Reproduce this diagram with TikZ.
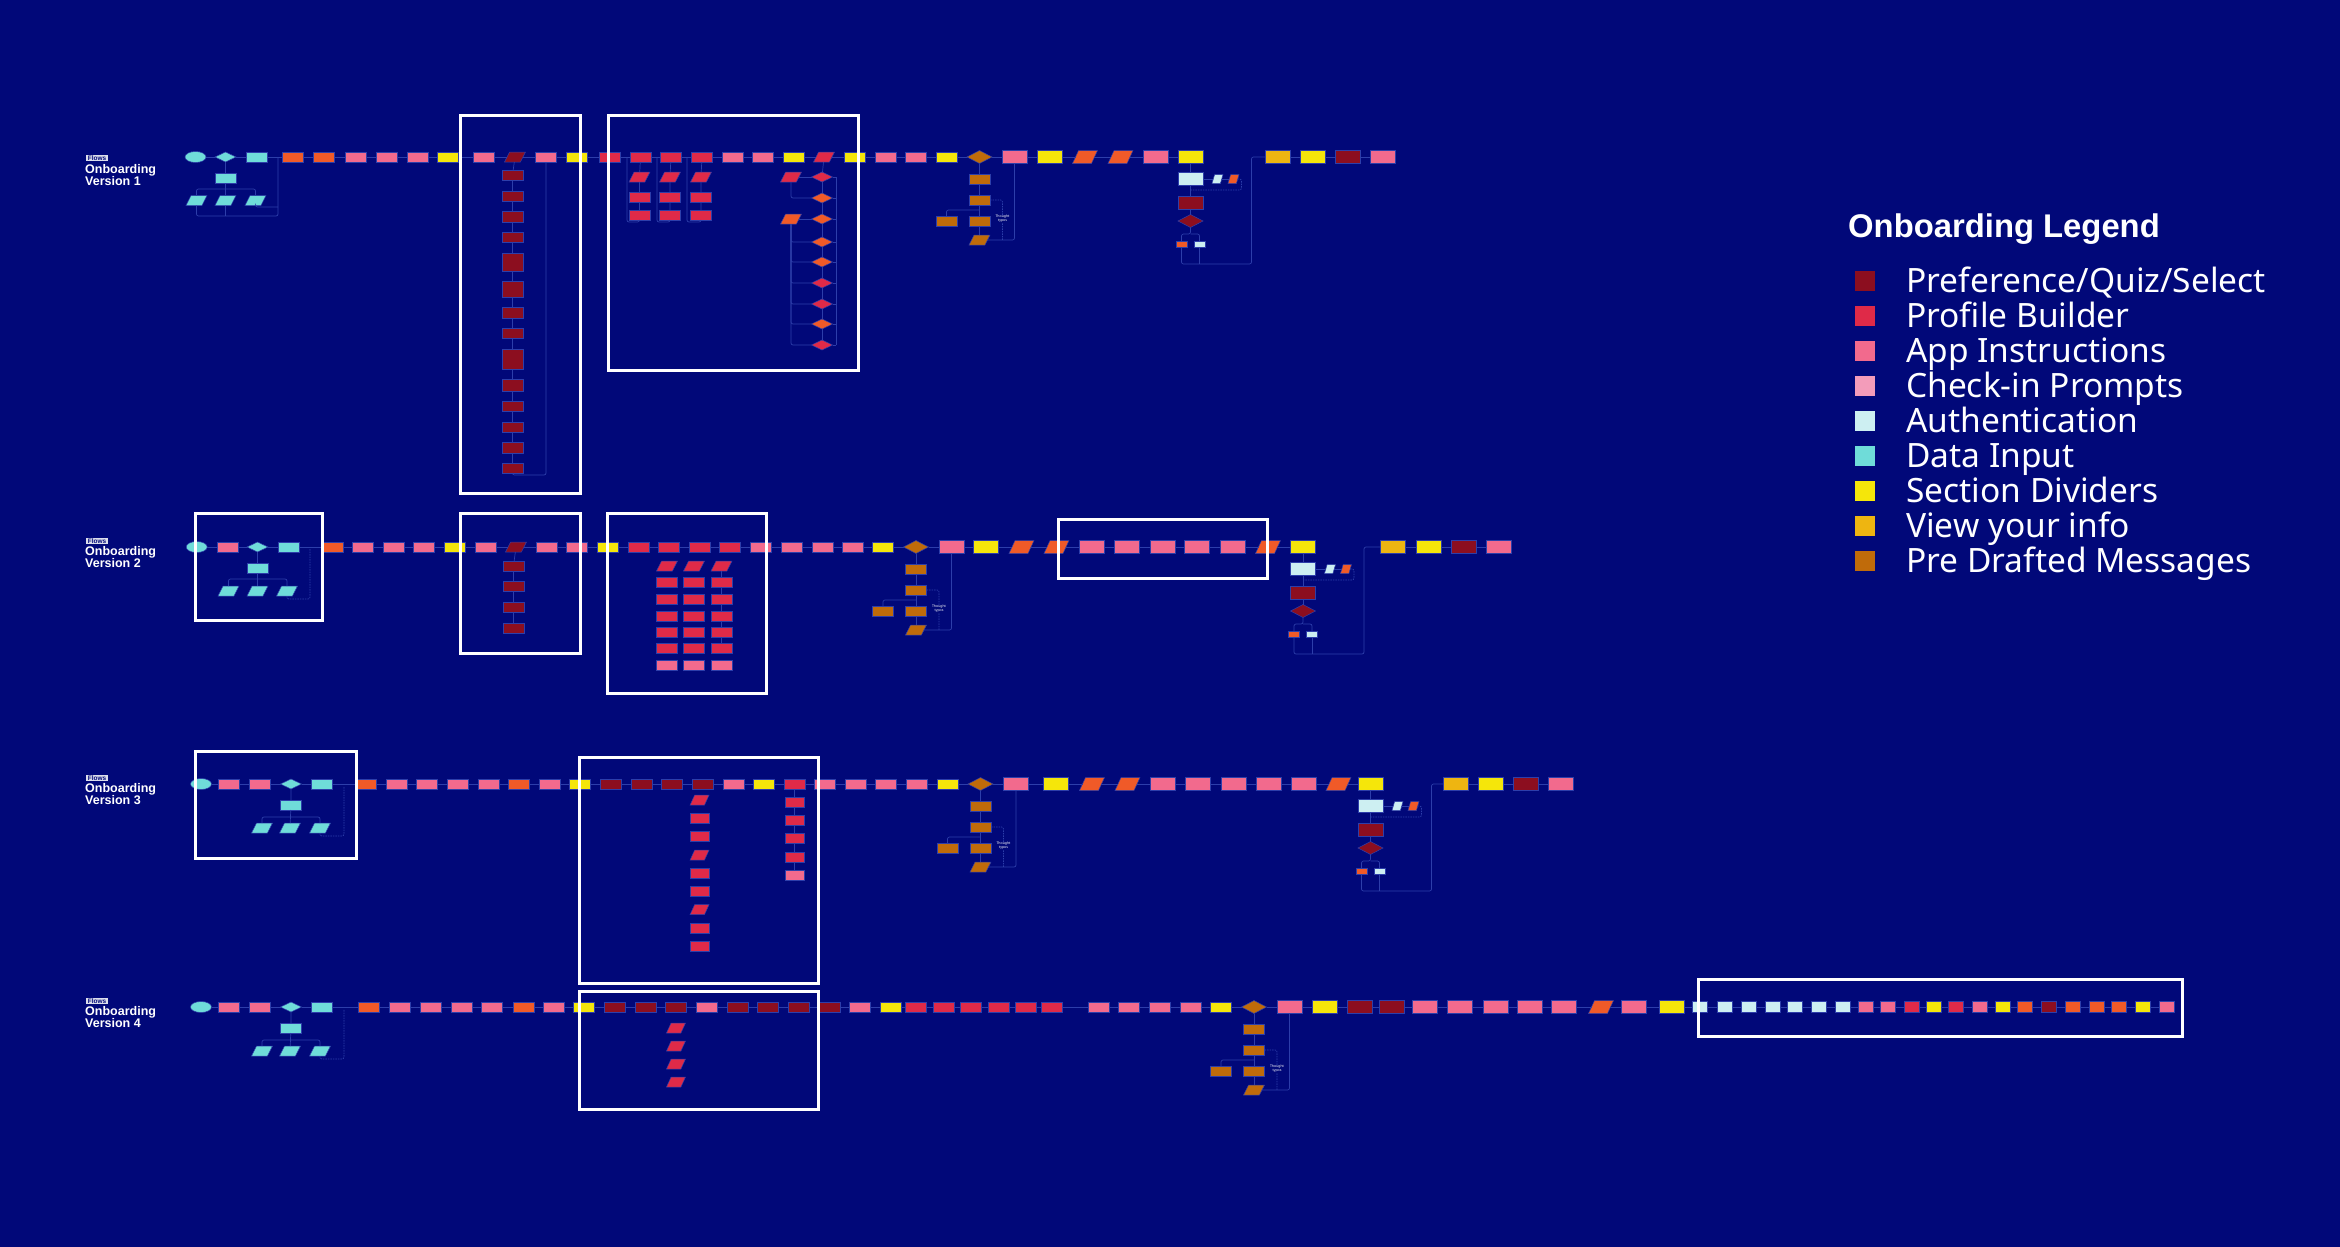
\documentclass[tikz,border=0pt]{standalone}
\usepackage{fontspec}
\setmainfont{Noto Sans}
\newfontfamily\lbs{Liberation Sans}
\usetikzlibrary{shapes.geometric}
\definecolor{cbg}{RGB}{1,8,121}
\definecolor{cpq}{RGB}{140,14,31}
\definecolor{cpb}{RGB}{223,42,72}
\definecolor{cai}{RGB}{242,106,141}
\definecolor{cci}{RGB}{243,156,186}
\definecolor{cau}{RGB}{205,239,242}
\definecolor{cdi}{RGB}{111,220,217}
\definecolor{csd}{RGB}{245,230,10}
\definecolor{cvi}{RGB}{238,181,17}
\definecolor{cpd}{RGB}{192,107,10}
\definecolor{cor}{RGB}{240,90,40}
\definecolor{lnc}{RGB}{45,62,170}
\definecolor{tagc}{RGB}{220,222,236}
\tikzset{
 nd/.style={inner sep=1pt, outer sep=0pt, line width=0.5pt, draw=lnc},
 nR/.style={nd, rectangle, minimum width=21pt, minimum height=10pt},
 nT/.style={nd, rectangle, minimum width=25pt, minimum height=13pt},
 nS/.style={nd, rectangle, minimum width=11pt, minimum height=6pt},
 nP/.style={nd, trapezium, trapezium left angle=65, trapezium right angle=115, trapezium stretches=true, minimum width=21pt, minimum height=10pt},
 nPt/.style={nP, minimum width=25pt, minimum height=13pt},
 nPs/.style={nP, minimum width=11pt, minimum height=9pt},
 nD/.style={nd, diamond, minimum width=21pt, minimum height=10pt},
 nDt/.style={nd, diamond, minimum width=25pt, minimum height=13pt},
 nE/.style={nd, ellipse, minimum width=21pt, minimum height=11pt},
 conn/.style={draw=lnc, line width=0.7pt, rounded corners=2pt},
 dconn/.style={conn, dash pattern=on 1.5pt off 1pt},
 frm/.style={draw=white, line width=3pt},
 tag/.style={fill=tagc, text=cbg, font=\lbs\bfseries\fontsize{6.5}{7}\selectfont, inner xsep=1.5pt, inner ysep=0.8pt},
 ttl/.style={text=white, font=\lbs\bfseries\fontsize{12.5}{11.5}\selectfont, align=left, anchor=north west, inner sep=0pt},
 lgtx/.style={text=white, font=\fontsize{33.5}{38}\selectfont, anchor=base west, inner sep=0pt},
}
\newcommand\authc[5]{%
 \node[nT,fill=cau] (#1a) at ({#2},{#3+22}) {};
 \node[nPs,fill=cau] (#1p1) at ({#2+27},{#3+22}) {};
 \node[nPs,fill=cor] (#1p2) at ({#2+43},{#3+22}) {};
 \node[nT,fill=cpq] (#1r) at ({#2},{#3+45.5}) {};
 \node[nDt,fill=cpq] (#1d) at ({#2},{#3+64}) {};
 \node[nS,fill=cor] (#1s1) at ({#2-9},{#3+87}) {};
 \node[nS,fill=cau] (#1s2) at ({#2+9},{#3+87}) {};
 \draw[conn] (#4) -- (#1a) -- (#1r) -- (#1d);
 \draw[conn] (#1a) -- (#1p1) -- (#1p2);
 \draw[dconn] (#1p2) -| ({#2+51},{#3+33}) -- ({#2},{#3+33});
 \draw[conn] (#1d) -- ({#2},{#3+77}) -| (#1s1);
 \draw[conn] ({#2},{#3+77}) -| (#1s2);
 \draw[conn] (#1s1) |- ({#2+61},{#3+107}) |- (#5);
 \draw[conn] (#1s2) -- ({#2+9},{#3+107});
}
\newcommand\brownc[5]{%
 \node[nR,fill=cpd] (#1b1) at ({#2},{#3+22}) {};
 \node[nR,fill=cpd] (#1b2) at ({#2},{#3+43}) {};
 \node[nR,fill=cpd] (#1b3) at ({#2},{#3+64}) {};
 \node[nR,fill=cpd] (#1b4) at ({#2-33},{#3+64}) {};
 \node[nP,fill=cpd] (#1b5) at ({#2},{#3+83}) {};
 \draw[conn] (#4) -- (#1b1) -- (#1b2) -- (#1b3) -- (#1b5);
 \draw[conn] ({#2},{#3+53}) -| (#1b4);
 \draw[dconn] (#1b2) -| ({#2+23},{#3+83});
 \node[font=\fontsize{3.5}{4}\selectfont, text=white, fill=cbg, inner sep=0.5pt, align=center] (#1bt) at ({#2+23},{#3+62}) {Thought\\typos};
 \draw[conn] (#5) |- (#1b5);
}
\begin{document}
\begin{tikzpicture}[x=1pt,y=-1pt]
\fill[cbg] (0,0) rectangle (2340,1247);
\useasboundingbox (0,0) rectangle (2340,1247);

% ================= ROW 1 =================
\node[tag] (t1) at (97,158) {Flows};
\node[ttl] (h1) at (85,164) {Onboarding\\Version 1};
\foreach \s/\c/\x [count=\i] in {nE/cdi/195.5, nD/cdi/225.5, nR/cdi/256.5, nR/cor/293, nR/cor/324, nR/cai/355.5, nR/cai/386.5, nR/cai/417.5, nR/csd/448, nR/cai/483.5, nP/cpq/515, nR/cai/546, nR/csd/577, nR/cpb/610, nR/cpb/640.5, nR/cpb/671, nR/cpb/702, nR/cai/732.5, nR/cai/763, nR/csd/793.5, nP/cpb/824, nR/csd/854.5, nR/cai/885.5, nR/cai/916, nR/csd/946.5, nDt/cpd/979.5, nT/cai/1014.5, nT/csd/1049.5, nPt/cor/1085, nPt/cor/1120.5, nT/cai/1155.5, nT/csd/1190.5, nT/cvi/1277.5, nT/csd/1312.5, nT/cpq/1347.5, nT/cai/1383}
 \node[\s, fill=\c] (a\i) at (\x,157) {};
\foreach \i in {2,...,32,34,35,36} {\pgfmathtruncatemacro\j{\i-1}\draw[conn] (a\j) -- (a\i);}
% intro
\node[nR,fill=cdi] (a2s) at (225.5,178) {};
\node[nP,fill=cdi] (a2p1) at (196.5,200.5) {};
\node[nP,fill=cdi] (a2p2) at (225.5,200.5) {};
\node[nP,fill=cdi] (a2p3) at (255.5,200.5) {};
\draw[conn] (a2) -- (a2s) -- (a2p2);
\draw[conn] (225.5,189) -| (a2p1);
\draw[conn] (225.5,189) -| (a2p3);
\draw[conn] (a2p1) |- (278,216) -- (278,157);
\draw[conn] (a2p2) -- (225.5,216);
\draw[conn] (a2p3) |- (278,207);
% frame 1 column
\foreach \y/\h [count=\i] in {175/10,196/10,216.5/11,237/10,262/18,289/16,312.5/11,333/10,359/20,385/12,406/10,427/10,447.5/11,468/10}
 \node[nR, fill=cpq, minimum height=\h] (a11c\i) at (512.5,\y) {};
\draw[conn] (a11) -- (a11c1);
\foreach \i in {2,...,14} {\pgfmathtruncatemacro\j{\i-1}\draw[conn] (a11c\j) -- (a11c\i);}
\draw[conn] (a12) |- (512.5,475) -- (a11c14);
% frame 2 sub columns
\foreach \k/\x/\bx in {15/639.5/627, 16/670/657, 17/701/687} {
 \node[nP,fill=cpb] (a\k p) at (\x,177) {};
 \node[nR,fill=cpb] (a\k r1) at (\x,197) {};
 \node[nR,fill=cpb] (a\k r2) at (\x,215) {};
 \draw[conn] (a\k) -- (a\k p) -- (a\k r1) -- (a\k r2);
 \draw[conn] (a\k r2) |- (\bx,222) -- (\bx,157);
}
% diamonds column
\foreach \c/\y [count=\i] in {cpb/177, cor/198, cor/219, cor/242, cor/262, cpb/283, cpb/304, cor/324, cpb/345}
 \node[nD, fill=\c] (a21d\i) at (822,\y) {};
\draw[conn] (a21) -- (a21d1);
\foreach \i in {2,...,9} {\pgfmathtruncatemacro\j{\i-1}\draw[conn] (a21d\j) -- (a21d\i);}
\node[nP,fill=cpb] (a21q1) at (791,177) {};
\node[nP,fill=cor] (a21q2) at (791,219) {};
\draw[conn] (a21q1) -- (a21d1);
\draw[conn] (a21q1) |- (a21d2);
\draw[conn] (a21q2) -- (a21d3);
\foreach \i in {4,...,9} \draw[conn] (a21q2) |- (a21d\i);
\foreach \i/\y in {1/177,2/198,3/219,4/242,5/262,6/283,7/304,8/324,9/345} \draw[conn] (a21d\i) -- (836,\y);
\draw[conn] (836,177) -- (836,345);
\brownc{a26}{979.5}{157}{a26}{a27}
\authc{a32}{1190.5}{157}{a32}{a33}
\draw[frm] (460,115) rectangle (580,493);
\draw[frm] (608,115) rectangle (858,370);

% ================= ROW 2 =================
\node[tag] (t2) at (97,541) {Flows};
\node[ttl] (h2) at (85,546) {Onboarding\\Version 2};
\foreach \s/\c/\x [count=\i] in {nE/cdi/196.7, nR/cai/227.5, nD/cdi/257.5, nR/cdi/288.5, nR/cor/332.5, nR/cai/362.5, nR/cai/393.5, nR/cai/424, nR/csd/454.5, nR/cai/485.5, nP/cpq/516, nR/cai/546.5, nR/cai/577, nR/csd/608, nR/cpb/638.5, nR/cpb/669, nR/cpb/699.5, nR/cpb/730, nR/cai/760.5, nR/cai/791.5, nR/cai/822.5, nR/cai/852.5, nR/csd/883, nDt/cpd/916, nT/cai/951.5, nT/csd/986, nPt/cor/1021.5, nPt/cor/1056.5, nT/cai/1092, nT/cai/1127, nT/cai/1162.5, nT/cai/1197, nT/cai/1233, nPt/cor/1268, nT/csd/1303, nT/cvi/1393, nT/csd/1428.5, nT/cpq/1463.5, nT/cai/1499}
 \node[\s, fill=\c] (b\i) at (\x,547) {};
\foreach \i in {2,...,35,37,38,39} {\pgfmathtruncatemacro\j{\i-1}\draw[conn] (b\j) -- (b\i);}
\node[nR,fill=cdi] (b3s) at (257.5,568) {};
\node[nP,fill=cdi] (b3p1) at (228.5,591) {};
\node[nP,fill=cdi] (b3p2) at (257.5,591) {};
\node[nP,fill=cdi] (b3p3) at (287,591) {};
\draw[conn] (b3) -- (b3s) -- (b3p2);
\draw[conn] (257.5,579) -| (b3p1);
\draw[conn] (257.5,579) -| (b3p3);
\draw[dconn] (b3p3) |- (310,599) -- (310,549);
\foreach \y [count=\i] in {566,586,607,628} \node[nR,fill=cpq] (b11c\i) at (513.5,\y) {};
\draw[conn] (b11) -- (b11c1) -- (b11c2) -- (b11c3) -- (b11c4);
\foreach \x [count=\k] in {667,694,721.5} {
 \node[nP,fill=cpb] (g\k p) at (\x,566) {};
 \foreach \y [count=\i] in {582,599,616,632,648} \node[nR,fill=cpb] (g\k r\i) at (\x,\y) {};
 \node[nR,fill=cai] (g\k r6) at (\x,665) {};
}
\draw[conn] (g3p) -- (g3r1) -- (g3r2) -- (g3r3) -- (g3r4) -- (g3r5);
\brownc{b24}{916}{547}{b24}{b25}
\authc{b35}{1303}{547}{b35}{b36}
\draw[frm] (195,513) rectangle (322,620);
\draw[frm] (460,513) rectangle (580,653);
\draw[frm] (607.5,513) rectangle (766,693);
\draw[frm] (1058.5,519) rectangle (1267,578);

% ================= ROW 3 =================
\node[tag] (t3) at (97,778) {Flows};
\node[ttl] (h3) at (85,783) {Onboarding\\Version 3};
\foreach \s/\c/\x [count=\i] in {nE/cdi/201, nR/cai/228.5, nR/cai/259.5, nD/cdi/291, nR/cdi/322, nR/cor/366, nR/cai/397, nR/cai/427, nR/cai/457.5, nR/cai/488.5, nR/cor/519, nR/cai/549.5, nR/csd/580, nR/cpq/610.5, nR/cpq/641.5, nR/cpq/672, nR/cpq/702.5, nR/cai/733.5, nR/csd/764, nR/cpb/794.5, nR/cai/825, nR/cai/855.5, nR/cai/886, nR/cai/917, nR/csd/947.5, nDt/cpd/980.5, nT/cai/1016, nT/csd/1056, nPt/cor/1092, nPt/cor/1127.5, nT/cai/1163, nT/cai/1198, nT/cai/1233.5, nT/cai/1268.5, nT/cai/1303.5, nPt/cor/1338.5, nT/csd/1370.5, nT/cvi/1455.5, nT/csd/1490.5, nT/cpq/1526, nT/cai/1561}
 \node[\s, fill=\c] (c\i) at (\x,784) {};
\foreach \i in {2,...,37,39,40,41} {\pgfmathtruncatemacro\j{\i-1}\draw[conn] (c\j) -- (c\i);}
\node[nR,fill=cdi] (c4s) at (291,805) {};
\node[nP,fill=cdi] (c4p1) at (262,828) {};
\node[nP,fill=cdi] (c4p2) at (290,828) {};
\node[nP,fill=cdi] (c4p3) at (320,828) {};
\draw[conn] (c4) -- (c4s) -- (c4p2);
\draw[conn] (291,817) -| (c4p1);
\draw[conn] (291,817) -| (c4p3);
\draw[dconn] (c4p3) |- (344,836) -- (344,786);
\foreach \s/\y [count=\i] in {nP/800, nR/818.5, nR/836.5, nP/855, nR/873, nR/891.5, nP/909.5, nR/928, nR/946}
 \node[\s,fill=cpb,minimum width=19pt] (c17c\i) at (699.6,\y) {};
\foreach \s/\c/\y [count=\i] in {nR/cpb/802.5, nR/cpb/820.5, nR/cpb/838.5, nR/cpb/857, nR/cai/875.5}
 \node[\s,fill=\c,minimum width=19pt] (c20c\i) at (794.5,\y) {};
\draw[conn] (c20) -- (c20c1) -- (c20c2) -- (c20c3) -- (c20c4) -- (c20c5);
\brownc{c26}{980.5}{784}{c26}{c27}
\authc{c37}{1370.5}{784}{c37}{c38}
\draw[frm] (195,751) rectangle (356,858);
\draw[frm] (579,757) rectangle (818.5,983);

% ================= ROW 4 =================
\node[tag] (t4) at (97,1001) {Flows};
\node[ttl] (h4) at (85,1006) {Onboarding\\Version 4};
\foreach \s/\c/\x [count=\i] in {nE/cdi/201, nR/cai/228.5, nR/cai/259.5, nD/cdi/291, nR/cdi/322, nR/cor/369, nR/cai/400, nR/cai/431, nR/cai/462, nR/cai/492, nR/cor/524, nR/cai/554, nR/csd/584, nR/cpq/615, nR/cpq/646, nR/cpq/676, nR/cai/707, nR/cpq/737.5, nR/cpq/768, nR/cpq/799, nR/cpq/829.5, nR/cai/860, nR/csd/891, nR/cpb/916, nR/cpb/944, nR/cpb/971, nR/cpb/999, nR/cpb/1026, nR/cpb/1052, nR/cai/1098.5, nR/cai/1129, nR/cai/1159.5, nR/cai/1190.5, nR/csd/1221, nDt/cpd/1254, nT/cai/1289.5, nT/csd/1325, nT/cpq/1360, nT/cpq/1392, nT/cai/1425, nT/cai/1460, nT/cai/1495.5, nT/cai/1530, nT/cai/1564, nPt/cor/1601, nT/cai/1634, nT/csd/1672}
 \node[\s, fill=\c] (d\i) at (\x,1007) {};
\foreach \c/\x [count=\i] in {cau/1700, cau/1725, cau/1749, cau/1773, cau/1795, cau/1819, cau/1843, cai/1866, cai/1888, cpb/1912, csd/1934, cpb/1956, cai/1980, csd/2003, cor/2025, cpq/2049, cor/2073, cor/2097, cor/2119, csd/2143, cai/2167}
 \node[nR, fill=\c, minimum width=15pt, minimum height=11pt] (e\i) at (\x,1007) {};
\foreach \i in {2,...,47} {\pgfmathtruncatemacro\j{\i-1}\draw[conn] (d\j) -- (d\i);}
\draw[conn] (d47) -- (e1);
\foreach \i in {2,...,21} {\pgfmathtruncatemacro\j{\i-1}\draw[conn] (e\j) -- (e\i);}
\node[nR,fill=cdi] (d4s) at (291,1028) {};
\node[nP,fill=cdi] (d4p1) at (262,1051) {};
\node[nP,fill=cdi] (d4p2) at (290,1051) {};
\node[nP,fill=cdi] (d4p3) at (320,1051) {};
\draw[conn] (d4) -- (d4s) -- (d4p2);
\draw[conn] (291,1040) -| (d4p1);
\draw[conn] (291,1040) -| (d4p3);
\draw[dconn] (d4p3) |- (344,1059) -- (344,1009);
\foreach \y [count=\i] in {1028, 1046, 1064, 1082}
 \node[nP,fill=cpb,minimum width=19pt] (d16c\i) at (676,\y) {};
\brownc{d35}{1254}{1007}{d35}{d36}
\draw[frm] (579,991) rectangle (818,1109);
\draw[frm] (1698,979) rectangle (2182,1036);

% ================= LEGEND =================
\node[text=white, font=\lbs\bfseries\fontsize{32.8}{36}\selectfont, anchor=base west, inner sep=0pt] (lgt) at (1848,237) {Onboarding Legend};
\foreach \c/\t [count=\i] in {cpq/Preference\slash Quiz\slash Select, cpb/Profile Builder, cai/App Instructions, cci/Check-in Prompts, cau/Authentication, cdi/Data Input, csd/Section Dividers, cvi/View your info, cpd/Pre Drafted Messages} {
 \pgfmathsetmacro\yy{281+35*(\i-1)}
 \node[fill=\c, minimum size=20pt, inner sep=0pt] (ls\i) at (1865,\yy) {};
 \node[lgtx] (ll\i) at (1906,\yy+11.5) {\t};
}
\end{tikzpicture}
\end{document}
